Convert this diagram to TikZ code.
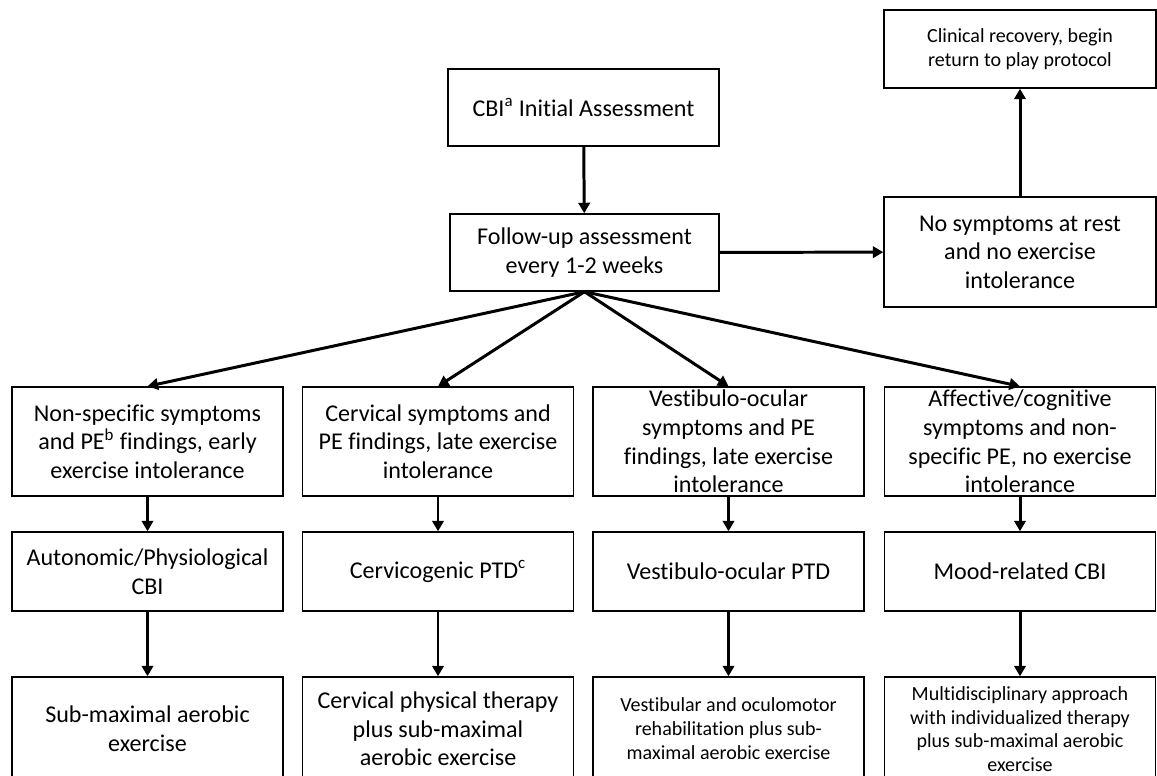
\documentclass[tikz,border=0pt]{standalone}
\usepackage{fontspec}
\setmainfont{Carlito}[Ligatures=NoCommon]
\usetikzlibrary{arrows.meta}

\begin{document}
\begin{tikzpicture}[x=0.02cm,y=-0.02cm,
    box/.style={draw, line width=0.8pt, align=center, inner sep=0pt,
      minimum width=5.42cm, font=\fontsize{13.7}{16.3}\selectfont},
    smalltext/.style={font=\fontsize{11.4}{13.6}\selectfont},
    flow/.style={line width=1.7pt, -{Triangle[length=6pt,width=6.5pt]}}]
  \useasboundingbox (0,0) rectangle (1157,775);
  \clip (0,0) rectangle (1157,775);

  % top part
  \node[box, minimum height=1.54cm] (cbi) at (583.5,107.5) {CBI\textsuperscript{a} Initial Assessment};
  \node[box, minimum width=5.38cm, minimum height=1.54cm] (fu) at (584.5,252.5)
    {Follow-up assessment\\every 1-2 weeks};
  \node[box, minimum width=5.44cm, minimum height=2.2cm] (ns) at (1020,252)
    {No symptoms at rest\\and no exercise\\intolerance};
  \node[box, smalltext, minimum width=5.44cm, minimum height=1.56cm] (cr) at (1020,49)
    {Clinical recovery, begin\\return to play protocol};

  % findings
  \node[box, minimum height=2.18cm] (p1) at (147.5,441.5)
    {Non-specific symptoms\\and PE\textsuperscript{b} findings, early\\exercise intolerance};
  \node[box, minimum height=2.18cm] (p2) at (438,441.5)
    {Cervical symptoms and\\PE findings, late exercise\\intolerance};
  \node[box, minimum height=2.18cm] (p3) at (728.5,441.5)
    {Vestibulo-ocular\\symptoms and PE\\findings, late exercise\\intolerance};
  \node[box, minimum height=2.18cm] (p4) at (1020,441.5)
    {Affective/cognitive\\symptoms and non-\\specific PE, no exercise\\intolerance};

  % diagnosis
  \node[box, minimum height=1.58cm] (d1) at (147.5,571.5) {Autonomic/Physiological\\CBI};
  \node[box, minimum height=1.58cm] (d2) at (438,571.5) {Cervicogenic PTD\textsuperscript{c}};
  \node[box, minimum height=1.58cm] (d3) at (728.5,571.5) {Vestibulo-ocular PTD};
  \node[box, minimum height=1.58cm] (d4) at (1020,571.5) {Mood-related CBI};

  % treatment
  \node[box, minimum height=2.08cm] (t1) at (147.5,729) {Sub-maximal aerobic\\exercise};
  \node[box, minimum height=2.08cm] (t2) at (438,729)
    {Cervical physical therapy\\plus sub-maximal\\aerobic exercise};
  \node[box, smalltext, minimum height=2.08cm] (t3) at (728.5,729)
    {Vestibular and oculomotor\\rehabilitation plus sub-\\maximal aerobic exercise};
  \node[box, smalltext, minimum height=2.08cm, text depth=0pt] (t4) at (1020,729)
    {Multidisciplinary approach\\with individualized therapy\\plus sub-maximal aerobic\\exercise};

  \draw[flow] (cbi) -- (fu);
  \draw[flow] (fu) -- (ns);
  \draw[flow] (ns) -- (cr);
  \foreach \i in {1,...,4}{
    \draw[flow] (fu.south) -- (p\i.north);
    \draw[flow] (p\i) -- (d\i);
    \draw[flow] (d\i) -- (t\i);
  }
\end{tikzpicture}
\end{document}
